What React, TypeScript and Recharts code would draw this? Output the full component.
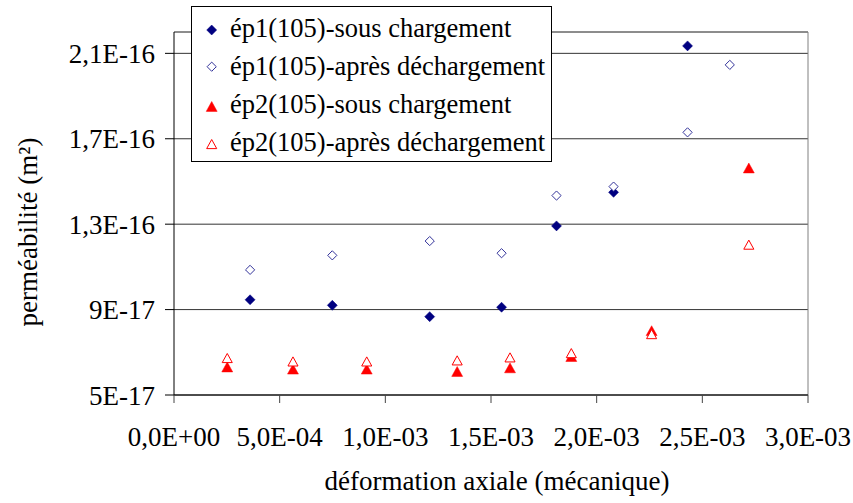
import React from "react";
import {
  ScatterChart,
  Scatter,
  XAxis,
  YAxis,
  CartesianGrid,
  ReferenceLine,
  Legend,
} from "recharts";

// ---- data ----
const EP1_SOUS_X = [3.6e-4, 7.49e-4, 1.21e-3, 1.55e-3, 1.81e-3, 2.08e-3, 2.43e-3];
const EP1_SOUS_Y = [9.46e-17, 9.2e-17, 8.67e-17, 9.11e-17, 1.292e-16, 1.449e-16, 2.135e-16];

const EP1_APRES_X = [3.6e-4, 7.49e-4, 1.21e-3, 1.55e-3, 1.81e-3, 2.08e-3, 2.43e-3, 2.63e-3];
const EP1_APRES_Y = [1.086e-16, 1.154e-16, 1.221e-16, 1.164e-16, 1.434e-16, 1.476e-16, 1.73e-16, 2.046e-16];

const EP2_X = [2.52e-4, 5.63e-4, 9.12e-4, 1.34e-3, 1.59e-3, 1.88e-3, 2.26e-3, 2.72e-3];
const EP2_SOUS_Y = [6.3e-17, 6.2e-17, 6.2e-17, 6.09e-17, 6.26e-17, 6.79e-17, 8.0e-17, 1.562e-16];
const EP2_APRES_Y = [6.72e-17, 6.56e-17, 6.56e-17, 6.61e-17, 6.75e-17, 6.95e-17, 7.84e-17, 1.203e-16];

const SERIES_NAMES = [
  "ép1(105)-sous chargement",
  "ép1(105)-après déchargement",
  "ép2(105)-sous chargement",
  "ép2(105)-après déchargement",
];

const X_TICKS = [0, 5e-4, 1e-3, 1.5e-3, 2e-3, 2.5e-3, 3e-3];
const X_TICK_LABELS = ["0,0E+00", "5,0E-04", "1,0E-03", "1,5E-03", "2,0E-03", "2,5E-03", "3,0E-03"];
const Y_TICKS = [5e-17, 9e-17, 1.3e-16, 1.7e-16, 2.1e-16];
const Y_TICK_LABELS = ["5E-17", "9E-17", "1,3E-16", "1,7E-16", "2,1E-16"];
const X_DOMAIN = [0, 3e-3];
const Y_DOMAIN = [5e-17, 2.2e-16];

const X_TITLE = "déformation axiale (mécanique)";
const Y_TITLE = "perméabilité (m²)";

const zip = (xs: number[], ys: number[]) => xs.map((x, i) => ({ x, y: ys[i] }));
const ep1Sous = zip(EP1_SOUS_X, EP1_SOUS_Y);
const ep1Apres = zip(EP1_APRES_X, EP1_APRES_Y);
const ep2Sous = zip(EP2_X, EP2_SOUS_Y);
const ep2Apres = zip(EP2_X, EP2_APRES_Y);

// ---- styles ----
const FONT = "Liberation Serif";
const NAVY = "#000080";
const NAVY_OPEN = "#33339a";
const RED = "#ff0000";

const diamondPts = (cx: number, cy: number, r: number) =>
  `${cx},${cy - r} ${cx + r},${cy} ${cx},${cy + r} ${cx - r},${cy}`;
const trianglePts = (cx: number, cy: number, r: number) =>
  `${cx},${cy - r} ${cx + r * 1.05},${cy + r * 0.9} ${cx - r * 1.05},${cy + r * 0.9}`;

const Marker = ({ kind, cx, cy }: { kind: number; cx: number; cy: number }) => {
  if (kind === 0) return <polygon points={diamondPts(cx, cy, 5)} fill={NAVY} stroke={NAVY} strokeWidth={0.5} />;
  if (kind === 1) return <polygon points={diamondPts(cx, cy, 4.6)} fill="#fff" stroke={NAVY_OPEN} strokeWidth={1} />;
  if (kind === 2) return <polygon points={trianglePts(cx, cy, 5.2)} fill={RED} stroke={RED} strokeWidth={0.5} />;
  return <polygon points={trianglePts(cx, cy, 4.8)} fill="#fff" stroke={RED} strokeWidth={1} />;
};

const fmtX = (v: number) => {
  const i = X_TICKS.findIndex((t) => Math.abs(t - v) < 1e-9);
  return i >= 0 ? X_TICK_LABELS[i] : "";
};
const fmtY = (v: number) => {
  const i = Y_TICKS.findIndex((t) => Math.abs(t - v) < 1e-19);
  return i >= 0 ? Y_TICK_LABELS[i] : "";
};

const txtStyle = { fontFamily: FONT };

const LegendBox = () => {
  const markerY = [24, 60.7, 100.7, 138.3];
  const textY = [31, 69, 107, 144.7];
  return (
    <svg width={362} height={158} style={{ display: "block" }}>
      <rect x={0.5} y={0.5} width={360} height={155} fill="#fff" stroke="#000" strokeWidth={1} />
      {SERIES_NAMES.map((name, i) => (
        <g key={name}>
          <Marker kind={i} cx={20.7} cy={markerY[i]} />
          <text x={39} y={textY[i]} style={txtStyle} fontSize={26.5} fill="#000">
            {name}
          </text>
        </g>
      ))}
    </svg>
  );
};

export default function App() {
  return (
    <div
      style={{
        position: "absolute",
        left: 0,
        top: 0,
        width: 853,
        height: 503,
        background: "#fff",
        fontFamily: FONT,
      }}
    >
      <ScatterChart
        width={853}
        height={503}
        margin={{ top: 32, right: 45, bottom: 0, left: 0 }}
        style={{ fontFamily: FONT }}
      >
        <CartesianGrid horizontal vertical={false} stroke="#333" strokeWidth={1} />
        <ReferenceLine y={Y_DOMAIN[1]} stroke="#808080" strokeWidth={1} />
        <ReferenceLine x={X_DOMAIN[1]} stroke="#808080" strokeWidth={1} />
        <XAxis
          type="number"
          dataKey="x"
          domain={X_DOMAIN}
          allowDataOverflow
          ticks={X_TICKS}
          interval={0}
          tickFormatter={fmtX}
          height={108}
          tickSize={8}
          tickMargin={24}
          axisLine={{ stroke: "#000" }}
          tickLine={{ stroke: "#444" }}
          tick={{ fill: "#000", fontSize: 27, fontFamily: FONT, style: txtStyle }}
          label={{
            content: () => (
              <text x={497} y={490} textAnchor="middle" style={txtStyle} fontSize={27} fill="#000">
                {X_TITLE}
              </text>
            ),
          }}
        />
        <YAxis
          type="number"
          dataKey="y"
          domain={Y_DOMAIN}
          allowDataOverflow
          ticks={Y_TICKS}
          interval={0}
          tickFormatter={fmtY}
          width={174}
          tickSize={9}
          tickMargin={10}
          axisLine={{ stroke: "#000" }}
          tickLine={{ stroke: "#000" }}
          tick={{ fill: "#000", fontSize: 27, fontFamily: FONT, style: txtStyle }}
          label={{
            content: () => (
              <text
                x={37}
                y={232}
                transform="rotate(-90, 37, 232)"
                textAnchor="middle"
                style={txtStyle}
                fontSize={27}
                fill="#000"
              >
                {Y_TITLE}
              </text>
            ),
          }}
        />
        <Scatter name={SERIES_NAMES[0]} data={ep1Sous} isAnimationActive={false}
          shape={(p: any) => <Marker kind={0} cx={p.cx} cy={p.cy} />} />
        <Scatter name={SERIES_NAMES[1]} data={ep1Apres} isAnimationActive={false}
          shape={(p: any) => <Marker kind={1} cx={p.cx} cy={p.cy} />} />
        <Scatter name={SERIES_NAMES[2]} data={ep2Sous} isAnimationActive={false}
          shape={(p: any) => <Marker kind={2} cx={p.cx} cy={p.cy} />} />
        <Scatter name={SERIES_NAMES[3]} data={ep2Apres} isAnimationActive={false}
          shape={(p: any) => <Marker kind={3} cx={p.cx} cy={p.cy} />} />
        <Legend
          layout="vertical"
          align="center"
          verticalAlign="middle"
          content={() => <LegendBox />}
          wrapperStyle={{ position: "absolute", left: 191, top: 6, width: 362, height: 158 }}
        />
      </ScatterChart>
    </div>
  );
}
